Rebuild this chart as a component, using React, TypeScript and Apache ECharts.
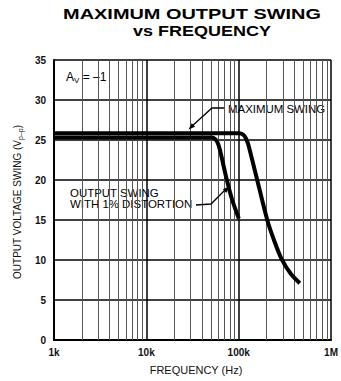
import React, { useEffect, useRef } from "react";
import * as echarts from "echarts";

// Frequency (Hz) / output swing (Vp-p)
const maxSwingFreq = [1000, 10000, 50000, 101000, 111400, 119800, 127400, 160600, 203500, 243000, 293600, 368000, 459000];
const maxSwingVpp = [25.85, 25.85, 25.85, 25.85, 25.69, 25.19, 24.38, 19.75, 15.04, 12.38, 10.04, 8.25, 7.09];

const distFreq = [1000, 10000, 40000, 51000, 55500, 59000, 62700, 73500, 85100, 100200];
const distVpp = [25.3, 25.3, 25.3, 25.3, 25.13, 24.69, 23.75, 20.25, 17.5, 15.19];

const xTickValues = [1000, 10000, 100000, 1000000];
const xTickLabels = ["1k", "10k", "100k", "1M"];
const minorGridFreqs = [
  2000, 3000, 4000, 5000, 6000, 7000, 8000, 9000,
  20000, 30000, 40000, 50000, 60000, 70000, 80000, 90000,
  200000, 300000, 400000, 500000, 600000, 700000, 800000, 900000,
];

const FONT = "'Liberation Sans', Arial, Helvetica, sans-serif";

export default function App() {
  const ref = useRef<HTMLDivElement>(null);

  useEffect(() => {
    if (!ref.current) return;
    const chart = echarts.init(ref.current, undefined, { renderer: "svg" });
    const toPairs = (xs: number[], ys: number[]) => xs.map((x, i) => [x, ys[i]]);

    chart.setOption({
      animation: false,
      backgroundColor: "#ffffff",
      grid: { left: 54, right: 4, top: 60, bottom: 41, containLabel: false },
      xAxis: {
        type: "log",
        logBase: 10,
        min: 1000,
        max: 1000000,
        axisLine: { show: true, lineStyle: { color: "#000", width: 2 } },
        axisTick: { show: false },
        axisLabel: {
          color: "#111",
          fontFamily: FONT,
          fontWeight: "bold",
          fontSize: 10,
          margin: 7,
          alignMinLabel: "center",
          alignMaxLabel: "center",
          formatter: (v: number) => {
            const i = xTickValues.findIndex((t) => Math.abs(t - v) / t < 1e-6);
            return i >= 0 ? xTickLabels[i] : "";
          },
        },
        splitLine: { show: true, lineStyle: { color: "#000", width: 1.5 } },
      },
      yAxis: {
        type: "value",
        min: 0,
        max: 35,
        interval: 5,
        axisLine: { show: true, lineStyle: { color: "#000", width: 2 } },
        axisTick: { show: false },
        axisLabel: { color: "#111", fontFamily: FONT, fontWeight: "bold", fontSize: 10, margin: 8 },
        splitLine: { show: true, lineStyle: { color: "#000", width: 1.5 } },
      },
      series: [
        {
          type: "line",
          name: "grid",
          data: [],
          z: 1,
          silent: true,
          markLine: {
            silent: true,
            symbol: "none",
            label: { show: false },
            lineStyle: { color: "#555", width: 1, type: "solid" },
            data: minorGridFreqs.map((f) => ({ xAxis: f })),
          },
        },
        {
          type: "line",
          name: "MAXIMUM SWING",
          data: toPairs(maxSwingFreq, maxSwingVpp),
          showSymbol: false,
          smooth: 0.25,
          z: 5,
          lineStyle: { color: "#000", width: 4 },
        },
        {
          type: "line",
          name: "OUTPUT SWING WITH 1% DISTORTION",
          data: toPairs(distFreq, distVpp),
          showSymbol: false,
          smooth: 0.25,
          z: 5,
          lineStyle: { color: "#000", width: 4 },
        },
      ],
      graphic: [
        {
          type: "text",
          x: 192,
          y: 14,
          scaleX: 1.33,
          style: {
            text: "MAXIMUM OUTPUT SWING",
            fontFamily: FONT,
            fontWeight: "bold",
            fontSize: 15,
            fill: "#000",
            align: "center",
            verticalAlign: "middle",
          },
        },
        {
          type: "text",
          x: 202,
          y: 31,
          scaleX: 1.2,
          style: {
            text: "vs FREQUENCY",
            fontFamily: FONT,
            fontWeight: "bold",
            fontSize: 15,
            fill: "#000",
            align: "center",
            verticalAlign: "middle",
          },
        },
        {
          type: "text",
          x: 17,
          y: 202,
          rotation: Math.PI / 2,
          style: {
            text: "{n|OUTPUT VOLTAGE SWING (V}{s|p–p}{n|)}",
            fill: "#111",
            align: "center",
            verticalAlign: "middle",
            rich: {
              n: { fontFamily: FONT, fontSize: 10, lineHeight: 14, fill: "#111" },
              s: { fontFamily: FONT, fontSize: 7, lineHeight: 14, verticalAlign: "bottom", fill: "#111" },
            },
          },
        },
        {
          type: "text",
          x: 196,
          y: 370,
          scaleX: 1.1,
          style: {
            text: "FREQUENCY (Hz)",
            fontFamily: FONT,
            fontSize: 10,
            fill: "#111",
            align: "center",
            verticalAlign: "middle",
          },
        },
        {
          type: "text",
          x: 66,
          y: 77,
          style: {
            text: "{n|A}{s|V}{n| = –1}",
            align: "left",
            verticalAlign: "middle",
            rich: {
              n: { fontFamily: FONT, fontSize: 12, lineHeight: 15, fill: "#000" },
              s: { fontFamily: FONT, fontSize: 8, lineHeight: 15, verticalAlign: "bottom", fill: "#000" },
            },
          },
        },
        {
          type: "text",
          x: 228,
          y: 109,
          scaleX: 1.04,
          style: {
            text: "MAXIMUM SWING",
            fontFamily: FONT,
            fontSize: 11,
            fill: "#000",
            align: "left",
            verticalAlign: "middle",
          },
        },
        {
          type: "text",
          x: 70,
          y: 199,
          scaleX: 1.04,
          style: {
            text: "OUTPUT SWING\nWITH 1% DISTORTION",
            fontFamily: FONT,
            fontSize: 11,
            lineHeight: 11,
            fill: "#000",
            align: "left",
            verticalAlign: "middle",
          },
        },
        {
          type: "polyline",
          z: 10,
          shape: { points: [[224, 108], [212, 108], [191, 127]] },
          style: { stroke: "#000", lineWidth: 1.3, fill: null },
        },
        {
          type: "polygon",
          z: 10,
          shape: { points: [[188.5, 129.5], [195.1, 126.8], [191.7, 123.2]] },
          style: { fill: "#000" },
        },
        {
          type: "polyline",
          z: 10,
          shape: { points: [[196, 205], [211, 204], [226, 189]] },
          style: { stroke: "#000", lineWidth: 1.3, fill: null },
        },
        {
          type: "polygon",
          z: 10,
          shape: { points: [[229, 186.5], [226.3, 192.9], [222.9, 189.3]] },
          style: { fill: "#000" },
        },
      ],
    });

    return () => chart.dispose();
  }, []);

  return (
    <div
      ref={ref}
      style={{ position: "fixed", left: 0, top: 0, width: 341, height: 381, background: "#fff" }}
    />
  );
}
